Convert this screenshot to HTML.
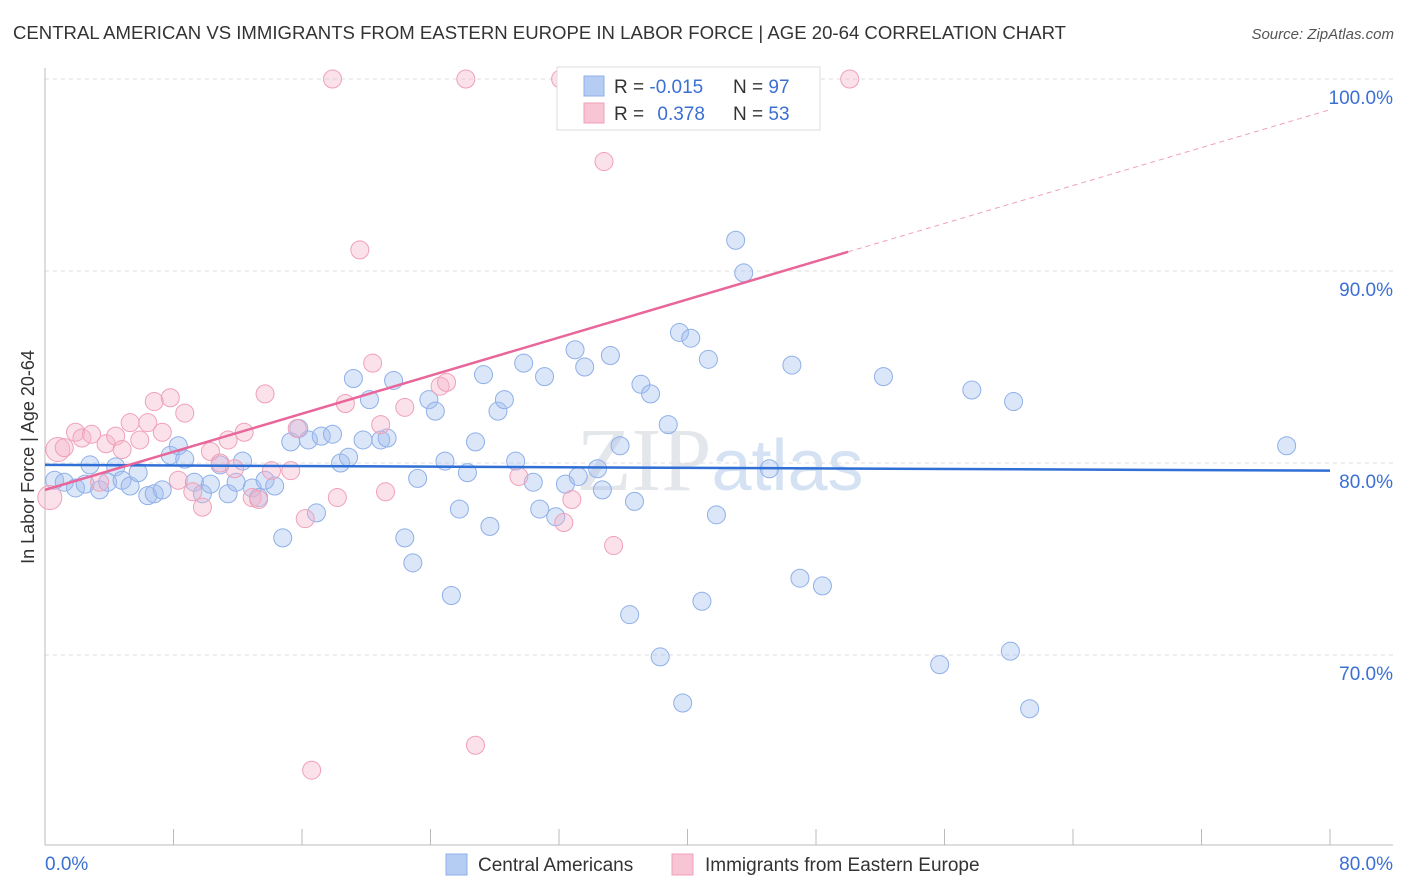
<!DOCTYPE html>
<html><head><meta charset="utf-8"><style>
body{margin:0;background:#fff;font-family:"Liberation Sans",sans-serif;}
svg{display:block}
</style></head><body>
<svg id="chart" width="1406" height="892" viewBox="0 0 1406 892" xmlns="http://www.w3.org/2000/svg">
<text x="13" y="39" font-size="18" fill="#333" textLength="1053" lengthAdjust="spacingAndGlyphs" font-family="Liberation Sans, sans-serif">CENTRAL AMERICAN VS IMMIGRANTS FROM EASTERN EUROPE IN LABOR FORCE | AGE 20-64 CORRELATION CHART</text>
<text x="1394" y="39" font-size="15" fill="#555" font-style="italic" text-anchor="end">Source: ZipAtlas.com</text>
<text x="720" y="490" font-size="90" fill="#e3e6ea" text-anchor="middle" font-family="Liberation Serif, serif">ZIP<tspan fill="#d5e2f3" font-family="Liberation Sans, sans-serif" font-size="72">atlas</tspan></text>
<g id="grid"></g>
<g id="axes"></g>
<g id="marks"></g>
<text transform="translate(34,457) rotate(-90)" font-size="18" fill="#333" text-anchor="middle">In Labor Force | Age 20-64</text>
<g>
<rect x="557" y="67" width="263" height="63" fill="#fff" stroke="#ddd"/>
<rect x="584" y="76" width="20" height="20" fill="#b5cdf3" stroke="#8fb0e8"/>
<rect x="584" y="103" width="20" height="20" fill="#f7c5d3" stroke="#f0a0b8"/>
<text x="614" y="93" font-size="19" fill="#333">R = <tspan fill="#3b6fd4">-0.015</tspan></text>
<text x="733" y="93" font-size="19" fill="#333">N = <tspan fill="#3b6fd4">97</tspan></text>
<text x="614" y="120" font-size="19" fill="#333">R = <tspan fill="#3b6fd4" dx="8">0.378</tspan></text>
<text x="733" y="120" font-size="19" fill="#333">N = <tspan fill="#3b6fd4">53</tspan></text>
</g>
<g>
<rect x="446" y="854" width="21" height="21" fill="#b5cdf3" stroke="#8fb0e8"/>
<text x="478" y="871" font-size="19" fill="#333">Central Americans</text>
<rect x="672" y="854" width="21" height="21" fill="#f7c5d3" stroke="#f0a0b8"/>
<text x="705" y="871" font-size="19" fill="#333">Immigrants from Eastern Europe</text>
</g>
</svg>
<script>
const blueX=[0.6,1.2,1.9,2.5,2.8,3.4,3.9,4.4,4.8,5.3,5.8,6.4,6.8,7.3,7.8,8.3,8.7,9.3,9.8,10.3,10.9,11.4,11.9,12.3,12.9,13.3,13.7,14.3,14.8,15.3,15.8,16.4,16.9,17.2,17.9,18.4,18.9,19.2,19.8,20.2,20.9,21.3,21.7,22.4,22.9,23.2,23.9,24.3,24.9,25.3,25.8,26.3,26.8,27.3,27.7,28.2,28.6,29.3,29.8,30.4,30.8,31.1,31.8,32.4,33.0,33.2,33.6,34.4,34.7,35.2,35.8,36.4,36.7,37.1,37.7,38.3,38.8,39.5,39.7,40.2,40.9,41.3,41.8,43.0,43.5,45.1,46.5,47.0,48.4,52.2,55.7,57.7,60.1,60.3,61.3,77.3];
const blueY=[79.1,79.0,78.7,78.9,79.9,78.6,79.0,79.8,79.1,78.8,79.5,78.3,78.4,78.6,80.4,80.9,80.2,79.0,78.4,78.9,79.9,78.4,79.0,80.1,78.7,78.2,79.1,78.8,76.1,81.1,81.8,81.2,77.4,81.4,81.5,80.0,80.3,84.4,81.2,83.3,81.2,81.3,84.3,76.1,74.8,79.2,83.3,82.7,80.1,73.1,77.6,79.5,81.1,84.6,76.7,82.7,83.3,80.1,85.2,79.0,77.6,84.5,77.2,78.9,85.9,79.3,85.0,79.7,78.6,85.6,80.9,72.1,78.0,84.1,83.6,69.9,82.0,86.8,67.5,86.5,72.8,85.4,77.3,91.6,89.9,79.7,85.1,74.0,73.6,84.5,69.5,83.8,70.2,83.2,67.2,80.9];
const pinkX=[0.3,0.8,1.2,1.9,2.3,2.9,3.4,3.8,4.4,4.8,5.3,5.9,6.4,6.8,7.3,7.8,8.3,8.7,9.2,9.8,10.3,10.9,11.4,11.8,12.4,12.9,13.3,13.7,14.1,15.3,15.7,16.2,16.6,17.9,18.2,18.7,19.6,20.4,20.9,21.2,22.4,24.6,25.0,26.2,26.8,29.5,32.1,32.3,32.8,34.8,35.4,50.1];
const pinkY=[78.2,80.7,80.8,81.6,81.3,81.5,79.0,81.0,81.4,80.7,82.1,81.2,82.1,83.2,81.6,83.4,79.1,82.6,78.5,77.7,80.6,80.0,81.2,79.7,81.6,78.2,78.1,83.6,79.6,79.6,81.8,77.1,64.0,100,78.2,83.1,91.1,85.2,82.0,78.5,82.9,84.0,84.2,100,65.3,79.3,100,76.9,78.1,95.7,75.7,100];
const yTicks=[100,90,80,70];
const xTickLabels=["0.0%","80.0%"];
const blueLine=[79.9,79.6];
const pinkLine=[78.6,91.0,98.4];

const NS="http://www.w3.org/2000/svg";
const X0=45,X1=1330,Y100=79,PXPER=19.2;
function xs(v){return X0+(X1-X0)*v/80;}
function ys(v){return Y100+(100-v)*PXPER;}
function mk(tag,attrs,parent){const e=document.createElementNS(NS,tag);for(const k in attrs)e.setAttribute(k,attrs[k]);parent.appendChild(e);return e;}
const grid=document.getElementById('grid'),axes=document.getElementById('axes'),marks=document.getElementById('marks');
yTicks.forEach(t=>{
 const l=mk('line',{x1:45,x2:1393,y1:ys(t),y2:ys(t),stroke:'#ddd','stroke-dasharray':'4,4'},grid);
 
 
 const tx=mk('text',{x:1393,y:ys(t)+25,'font-size':19,fill:'#3b6fd4','text-anchor':'end'},axes);
 tx.textContent=t.toFixed(1)+'%';
 
 
});
const xa=mk('line',{x1:45,x2:1393,y1:845,y2:845,stroke:'#bbb'},axes);


const ya=mk('line',{x1:45,x2:45,y1:68,y2:845,stroke:'#bbb'},axes);


for(let i=0;i<=10;i++){
 const v=i*8;
 const tk=mk('line',{x1:xs(v),x2:xs(v),y1:829,y2:845,stroke:'#bbb'},axes);
 
 
}
const tl0=mk('text',{x:45,y:870,'font-size':19,fill:'#3b6fd4'},axes);tl0.textContent=xTickLabels[0];


const tl1=mk('text',{x:1393,y:870,'font-size':19,fill:'#3b6fd4','text-anchor':'end'},axes);tl1.textContent=xTickLabels[1];



blueX.forEach((x,i)=>{
 const c=mk('circle',{cx:xs(x),cy:ys(blueY[i]),r:9,fill:'rgba(160,190,240,0.38)',stroke:'#8fb0e8','stroke-width':1},marks);
 
 
});
pinkX.forEach((x,i)=>{
 const r=i<2?12:9;
 const c=mk('circle',{cx:xs(x),cy:ys(pinkY[i]),r:r,fill:'rgba(245,180,200,0.38)',stroke:'#f0a0b8','stroke-width':1},marks);
 
 
});
const bl=mk('line',{x1:xs(0),y1:ys(blueLine[0]),x2:xs(80),y2:ys(blueLine[1]),stroke:'#2f6fd6','stroke-width':2.5},marks);


const pl=mk('line',{x1:xs(0),y1:ys(pinkLine[0]),x2:xs(50),y2:ys(pinkLine[1]),stroke:'#e8669a','stroke-width':2.5},marks);


const pd=mk('line',{x1:xs(50),y1:ys(pinkLine[1]),x2:xs(80),y2:ys(pinkLine[2]),stroke:'#f0a0b8','stroke-width':1,'stroke-dasharray':'5,4'},marks);


</script>
</body></html>
